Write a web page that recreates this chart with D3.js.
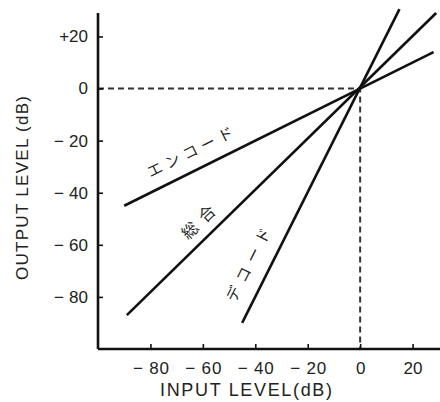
<!DOCTYPE html>
<html><head><meta charset="utf-8">
<script src="https://cdn.jsdelivr.net/npm/d3@7"></script>
<style>
html,body{margin:0;padding:0;background:#fff;}
svg{display:block;}
</style></head>
<body><svg id="c" width="440" height="402"></svg>
<script>
// ---- data ----
const xTicks = [-80, -60, -40, -20, 0, 20];
const xTickLabels = ["− 80", "− 60", "− 40", "− 20", "0", "20"];
const yTicks = [20, 0, -20, -40, -60, -80];
const yTickLabels = ["+20", "0", "− 20", "− 40", "− 60", "− 80"];
const seriesNames = ["エンコード", "総合", "デコード"];
const seriesStart = [[-90, -45], [-89, -87], [-45, -90]];
const seriesEnd = [[28, 14], [29, 29], [15, 30.5]];
const labelPos = [[-65, -24], [-62, -51], [-43, -67.5]];
const xTitle = "INPUT LEVEL(dB)";
const yTitle = "OUTPUT LEVEL (dB)";

const svg = d3.select("#c");
const x = d3.scaleLinear().domain([-100, 29.7]).range([98, 438]);
const y = d3.scaleLinear().domain([-100, 29]).range([349, 13]);
const font = "'Liberation Sans',Arial,sans-serif";

// dashed reference lines
svg.append("path")
  .attr("d", d3.line()([[x(-100), y(0)], [x(0), y(0)], [x(0), y(-100)]]))
  .attr("fill", "none").attr("stroke", "#333").attr("stroke-width", 2)
  .attr("stroke-dasharray", "6,4");

// series lines
const lineGen = d3.line().x(d => x(d[0])).y(d => y(d[1]));
seriesNames.forEach((n, i) => {
  svg.append("path").attr("d", lineGen([seriesStart[i], seriesEnd[i]]))
    .attr("fill", "none").attr("stroke", "#111").attr("stroke-width", 2.6);
});

// labels along lines
const labelLen = [94, 40, 80];
const labelSize = [15, 16, 15];
seriesNames.forEach((n, i) => {
  const s = seriesStart[i], e = seriesEnd[i];
  const ang = Math.atan2(y(e[1]) - y(s[1]), x(e[0]) - x(s[0])) * 180 / Math.PI;
  svg.append("text")
    .attr("transform", `translate(${x(labelPos[i][0])},${y(labelPos[i][1])}) rotate(${ang})`)
    .attr("text-anchor", "middle").attr("dominant-baseline", "central")
    .attr("font-family", "'Noto Sans CJK JP',sans-serif")
    .attr("font-size", labelSize[i])
    .attr("textLength", labelLen[i]).attr("lengthAdjust", "spacing")
    .attr("fill", "#222").text(n);
});

// axes
const xAxis = svg.append("g").attr("transform", `translate(0,${y(-100)})`)
  .call(d3.axisBottom(x).tickValues(xTicks).tickSize(-5).tickFormat((d, i) => xTickLabels[i]));
const yAxis = svg.append("g").attr("transform", `translate(${x(-100)},0)`)
  .call(d3.axisLeft(y).tickValues(yTicks).tickSize(-5).tickFormat((d, i) => yTickLabels[i]));
[xAxis, yAxis].forEach(g => {
  g.select(".domain").attr("stroke", "#111").attr("stroke-width", 2.6);
  g.selectAll(".tick line").attr("stroke", "#111").attr("stroke-width", 1.6);
  g.selectAll("text").attr("font-family", font).attr("font-size", 17).attr("fill", "#222");
});
xAxis.select(".domain").attr("d", `M${x(-100)},0H440`);
yAxis.select(".domain").attr("d", `M0,${y(29)}V${y(-100)}`);
xAxis.selectAll(".tick text").attr("dy", "0").attr("y", 25)
  .attr("textLength", (d, i) => xTickLabels[i].length > 2 ? 36 : null)
  .attr("lengthAdjust", "spacing");
yAxis.selectAll(".tick text").attr("x", -10)
  .attr("textLength", d => d < 0 ? 34 : null).attr("lengthAdjust", "spacing");

// titles
svg.append("text").attr("x", 246).attr("y", 396).attr("text-anchor", "middle")
  .attr("font-family", font).attr("font-size", 18)
  .attr("textLength", 172).attr("lengthAdjust", "spacing").attr("fill", "#222").text(xTitle);
svg.append("text").attr("transform", "translate(28,188) rotate(-90)").attr("text-anchor", "middle")
  .attr("font-family", font).attr("font-size", 17)
  .attr("textLength", 184).attr("lengthAdjust", "spacing").attr("fill", "#222").text(yTitle);
</script></body></html>
